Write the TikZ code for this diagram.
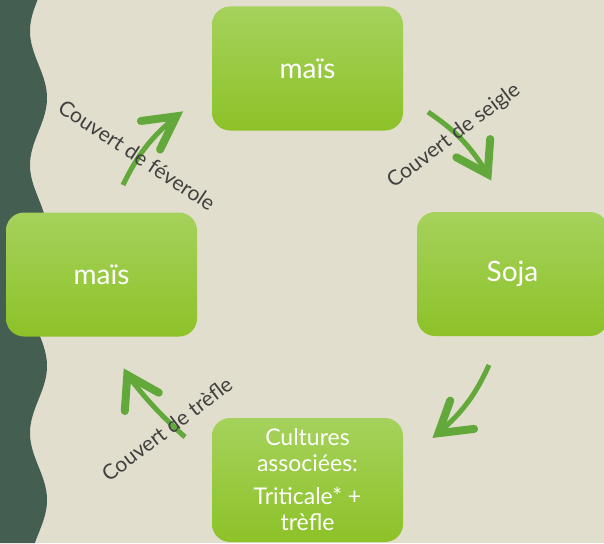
\documentclass[tikz,border=0pt]{standalone}
\usepackage{fontspec}
\setmainfont{Lato}
\definecolor{bg}{HTML}{E2DECD}
\definecolor{dark}{HTML}{445F51}
\definecolor{arr}{HTML}{62A83A}
\definecolor{boxtop}{HTML}{A5D25C}
\definecolor{boxmid}{HTML}{9BCF33}
\definecolor{boxbot}{HTML}{8DC228}
\definecolor{lbl}{HTML}{404040}
\tikzset{
  cropbox/.style={rounded corners=18pt, minimum width=191pt, minimum height=124pt,
    top color=boxtop, middle color=boxmid, bottom color=boxbot, draw=none,
    text=white, font=\fontsize{28}{30}\selectfont, inner sep=0pt},
  shaft/.style={draw=arr, line width=5pt},
  head/.style={draw=arr, line width=8pt, line cap=round, line join=miter},
  covlabel/.style={text=lbl, font=\fontsize{21}{23}\selectfont, inner sep=0pt}
}
\begin{document}
\begin{tikzpicture}[x=1pt,y=-1pt]
\useasboundingbox (0,0) rectangle (604,543);
\fill[bg] (0,0) rectangle (604,543);
\fill[dark] (0,0) -- plot[domain=0:543, samples=200, smooth] ({38.5-8.5*cos((\x-31)/134*360)}, \x) -- (0,543) -- cycle;

% boxes
\node[cropbox] (top) at (307.5,68.5) {maïs};
\node[cropbox] (left) at (101.5,274.5) {maïs};
\node[cropbox] (right) at (512.5,274) {Soja};
\node[cropbox, font=\fontsize{23}{26}\selectfont, align=center] (bottom) at (307.5,480)
  {Cultures\\associées:\\[7pt]Triticale* +\\trèfle};

% arrow 1 (féverole)
\coordinate (t1) at (123,185);
\coordinate (v1) at (176.3,116.3);
\coordinate (a1) at (140.9,121);
\coordinate (b1) at (160.1,149.6);
\draw[shaft] (t1) to[bend left=12] (v1);
\draw[head] (a1) -- (v1) -- (b1);

% arrow 2 (seigle)
\coordinate (t2) at (428,112);
\coordinate (v2) at (487.7,174.1);
\coordinate (a2) at (490.2,139);
\coordinate (b2) at (456.3,157.3);
\draw[shaft] (t2) to[bend left=12] (v2);
\draw[head] (a2) -- (v2) -- (b2);

% arrow 3
\coordinate (t3) at (489,365);
\coordinate (v3) at (438.4,433.2);
\coordinate (a3) at (450.2,400.6);
\coordinate (b3) at (474.1,428.9);
\draw[shaft] (t3) to[bend left=12] (v3);
\draw[head] (a3) -- (v3) -- (b3);

% arrow 4 (trèfle)
\coordinate (t4) at (185,437);
\coordinate (v4) at (127.3,375);
\coordinate (a4) at (124.8,411);
\coordinate (b4) at (158.8,392.7);
\draw[shaft] (t4) to[bend left=5] (v4);
\draw[head] (a4) -- (v4) -- (b4);

% labels
\node[covlabel, rotate=-33.5] (l1) at (137,155) {Couvert de féverole};
\node[covlabel, rotate=37] (l2) at (454,136) {Couvert de seigle};
\node[covlabel, rotate=37] (l3) at (167,429) {Couvert de trèfle};
\end{tikzpicture}
\end{document}
